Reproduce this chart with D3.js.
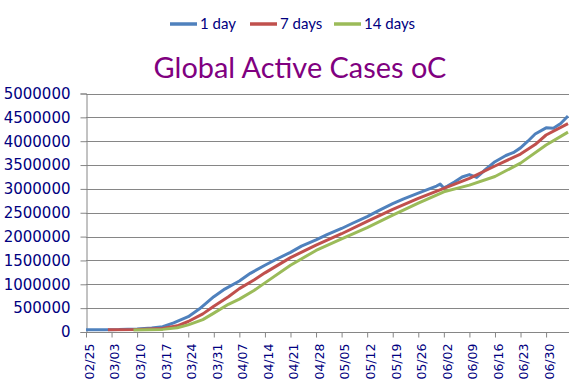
<!DOCTYPE html>
<html>
<head>
<meta charset="utf-8">
<script src="https://cdn.jsdelivr.net/npm/d3@7"></script>
<style>
  body { margin: 0; background: #fff; }
  svg { display: block; }
</style>
</head>
<body>
<div id="chart"></div>
<script>
// values (global active cases, 2020)
const seriesNames = ["1 day", "7 days", "14 days"];
const seriesColors = ["#4F81BD", "#C0504D", "#9BBB59"];

const dayDates = ["02/25","03/01","03/05","03/10","03/14","03/17","03/20","03/24","03/27","03/31",
  "04/03","04/07","04/10","04/14","04/17","04/21","04/24","04/28","05/01","05/05","05/08","05/12",
  "05/15","05/19","05/22","05/26","05/29","05/31","06/01","06/02","06/03","06/05","06/07","06/09",
  "06/11","06/13","06/16","06/19","06/21","06/23","06/25","06/27","06/30","07/02","07/04","07/06"];
const dayValues = [45000,48000,50000,62000,85000,110000,190000,320000,480000,740000,
  900000,1070000,1230000,1400000,1520000,1670000,1800000,1930000,2040000,2170000,2280000,2420000,
  2540000,2690000,2790000,2910000,3000000,3060000,3100000,3020000,3060000,3150000,3250000,3300000,
  3240000,3380000,3570000,3700000,3760000,3860000,4000000,4150000,4280000,4270000,4370000,4530000];

const weekDates = ["03/02","03/10","03/17","03/21","03/24","03/28","03/31","04/04","04/07","04/11",
  "04/14","04/21","04/28","05/05","05/12","05/19","05/26","06/02","06/09","06/16","06/23","06/27",
  "06/30","07/06"];
const weekValues = [45000,52000,75000,130000,220000,380000,540000,740000,910000,1090000,
  1240000,1560000,1820000,2060000,2320000,2570000,2800000,3010000,3220000,3480000,3730000,3930000,
  4130000,4370000];

const twoWeekDates = ["03/09","03/17","03/21","03/24","03/28","03/31","04/04","04/07","04/11","04/14",
  "04/21","04/28","05/05","05/12","05/19","05/26","06/02","06/09","06/16","06/23","06/30","07/06"];
const twoWeekValues = [40000,55000,90000,150000,260000,395000,580000,690000,870000,1030000,
  1400000,1710000,1950000,2190000,2450000,2700000,2940000,3080000,3260000,3540000,3920000,4190000];

const tickLabels = ["02/25","03/03","03/10","03/17","03/24","03/31","04/07","04/14","04/21","04/28",
  "05/05","05/12","05/19","05/26","06/02","06/09","06/16","06/23","06/30"];
const yTicks = [0,500000,1000000,1500000,2000000,2500000,3000000,3500000,4000000,4500000,5000000];

const width = 577, height = 384;
const margin = {top: 93.5, right: 8, bottom: 52, left: 86};

const parse = d3.timeParse("%Y/%m/%d");
const toDate = s => parse("2020/" + s);

const svg = d3.select("#chart").append("svg")
    .attr("width", width)
    .attr("height", height);

const x = d3.scaleTime()
    .domain([toDate("02/25"), toDate("07/06")])
    .range([margin.left, 568]);

const y = d3.scaleLinear()
    .domain([0, 5000000])
    .range([height - margin.bottom, margin.top]);

const gridColor = "#868686";
const textColor = "#000080";

// gridlines
svg.append("g")
    .selectAll("line")
    .data(yTicks.slice(1))
    .enter().append("line")
        .attr("x1", margin.left)
        .attr("x2", width - margin.right)
        .attr("y1", d => Math.round(y(d)) + 0.5)
        .attr("y2", d => Math.round(y(d)) + 0.5)
        .attr("stroke", gridColor)
        .attr("stroke-width", 1);

const yAxis = d3.axisLeft(y)
    .tickValues(yTicks)
    .tickSize(6)
    .tickPadding(10)
    .tickFormat(d3.format("d"));

const yAxisG = svg.append("g")
    .attr("transform", `translate(${margin.left + 0.5},0)`)
    .call(yAxis);
yAxisG.select(".domain").attr("stroke", gridColor);
yAxisG.selectAll(".tick line").attr("stroke", gridColor);
yAxisG.selectAll(".tick text")
    .style("font", "15px 'DejaVu Sans', sans-serif")
    .attr("fill", textColor);

const xAxis = d3.axisBottom(x)
    .tickValues(tickLabels.map(toDate))
    .tickSize(5)
    .tickFormat(d3.timeFormat("%m/%d"));

const xAxisG = svg.append("g")
    .attr("transform", `translate(0,${height - margin.bottom + 0.5})`)
    .call(xAxis);
xAxisG.select(".domain").attr("stroke", gridColor).attr("d", `M${margin.left},0H${width - margin.right}`);
xAxisG.selectAll(".tick line").attr("stroke", gridColor);
xAxisG.selectAll(".tick text")
    .style("font", "12.5px 'DejaVu Sans', sans-serif")
    .attr("fill", textColor)
    .attr("text-anchor", "end")
    .attr("transform", "rotate(-90)")
    .attr("x", -11)
    .attr("y", 3)
    .attr("dy", "0.35em");

// lines
const series = [
    {dates: dayDates, values: dayValues},
    {dates: weekDates, values: weekValues},
    {dates: twoWeekDates, values: twoWeekValues}
];

const line = d3.line()
    .x(d => x(d[0]))
    .y(d => y(d[1]));

svg.append("g")
    .selectAll("path")
    .data(series)
    .enter().append("path")
        .attr("d", s => line(s.dates.map((d, i) => [toDate(d), s.values[i]])))
        .attr("fill", "none")
        .attr("stroke", (s, i) => seriesColors[i])
        .attr("stroke-width", 3)
        .attr("stroke-linejoin", "round");

// legend
const legendX = [170, 250, 334];
const entry = svg.append("g")
    .selectAll(".entry")
    .data(seriesNames)
    .enter().append("g")
        .attr("class", "entry")
        .attr("transform", (d, i) => `translate(${legendX[i]},24)`);

entry.append("line")
    .attr("x1", 0).attr("x2", 27)
    .attr("stroke", (d, i) => seriesColors[i])
    .attr("stroke-width", 3.5);

entry.append("text")
    .attr("x", 30)
    .attr("dy", "0.35em")
    .style("font", "15px Lato, sans-serif")
    .attr("fill", textColor)
    .text(d => d);

// title
const title = svg.append("text")
    .attr("x", 300)
    .attr("y", 78)
    .attr("text-anchor", "middle")
    .style("font", "28px Lato, sans-serif")
    .attr("fill", "#800080")
    .text("Global Active Cases oC");
const tw = title.node().getComputedTextLength();
title.style("font-size", (28 * 293 / tw) + "px");
</script>
</body>
</html>
